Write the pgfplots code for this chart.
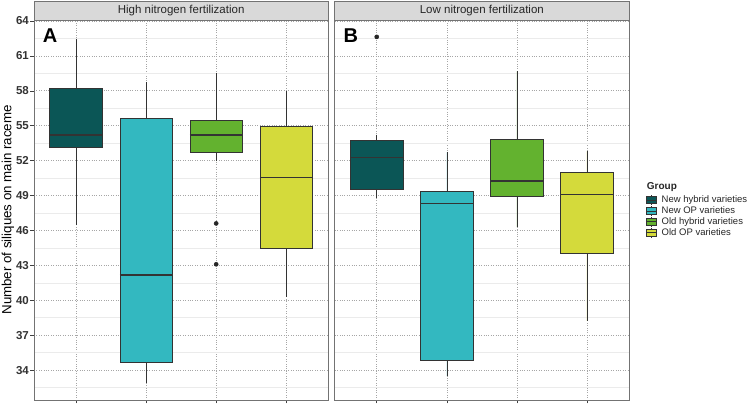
\documentclass[border=0pt]{standalone}
\usepackage{fontspec}
\setmainfont{Liberation Sans}
\usepackage{pgfplots}
\pgfplotsset{compat=1.18}
\usepgfplotslibrary{statistics}
\definecolor{cNH}{HTML}{0B5656}
\definecolor{cNO}{HTML}{33B8C0}
\definecolor{cOH}{HTML}{63B22F}
\definecolor{cOO}{HTML}{D4DA3B}
\definecolor{stripgray}{HTML}{D9D9D9}
\definecolor{boxline}{HTML}{333333}
\newcommand{\keyimg}[1]{%
    \path[draw=none, fill=none] (0pt,0pt) -- (14pt,0pt);
    \draw[boxline, line width=0.5pt] (5pt,-5pt) -- (5pt,5pt);
    \draw[boxline, line width=0.5pt, fill=#1] (0pt,-3.5pt) rectangle (10pt,3.5pt);
    \draw[boxline, line width=0.9pt] (0pt,0pt) -- (10pt,0pt);}
\begin{document}
\begin{tikzpicture}[x=1pt,y=1pt]
\path[use as bounding box] (0,0) rectangle (750,404);
\pgfplotsset{
 panel/.style={
  scale only axis, width=294.3pt, height=380pt,
  xmin=0.4, xmax=4.6, ymin=31.43, ymax=64.08,
  xtick={1,2,3,4}, xticklabels={},
  ytick={34,37,...,64},
  minor ytick={32.5,35.5,...,63.5},
  grid=both,
  major grid style={dotted, black!35, line width=0.6pt},
  minor grid style={black!8, line width=0.5pt},
  axis line style={black!55, line width=0.6pt},
  tick style={black!75, line width=0.5pt},
  minor tick length=0pt,
  tick align=outside, major tick length=3.5pt,
  tick pos=left,
  clip=false,
  /pgf/number format/assume math mode=true,
  yticklabel style={font=\fontsize{11.5}{13}\selectfont\bfseries, text=black!80, inner sep=1.5pt},
  boxplot/draw direction=y,
  boxplot/box extend=0.75,
  boxplot/whisker extend=0,
  boxplot/every median/.style={line width=1.4pt},
  bx/.style={draw=boxline, line width=0.6pt, mark=*, mark size=2pt,
   mark options={fill=black!85, draw=black!85, solid}},
 }}
% ---------- Panel A
\begin{axis}[panel, at={(34pt,4pt)}, anchor=south west,
  ylabel={Number of siliques on main raceme},
  every axis y label/.style={at={(axis description cs:0,0.5)}, rotate=90, anchor=center, yshift=26pt, font=\fontsize{13.3}{15}\selectfont, text=black}]
\addplot[bx, fill=cNH, boxplot prepared={draw position=1, lower whisker=46.43, lower quartile=53.11, median=54.2, upper quartile=58.23, upper whisker=62.43}] coordinates {};
\addplot[bx, fill=cNO, boxplot prepared={draw position=2, lower whisker=32.91, lower quartile=34.66, median=42.17, upper quartile=55.6, upper whisker=58.77}] coordinates {};
\addplot[bx, fill=cOH, boxplot prepared={draw position=3, lower whisker=51.94, lower quartile=52.74, median=54.2, upper quartile=55.46, upper whisker=59.49}] coordinates {(0,46.6) (0,43.09)};
\addplot[bx, fill=cOO, boxplot prepared={draw position=4, lower whisker=40.29, lower quartile=44.43, median=50.57, upper quartile=54.91, upper whisker=57.94}] coordinates {};
\draw[fill=stripgray, draw=black!55, line width=0.6pt] (rel axis cs:0,1) rectangle ([yshift=19pt]rel axis cs:1,1);
\node[font=\fontsize{11.5}{13}\selectfont, text=black!85] at ([yshift=9.5pt]rel axis cs:0.5,1) {High nitrogen fertilization};
\node[font=\fontsize{20}{24}\selectfont\bfseries] at (axis cs:0.63,62.7) {A};
\end{axis}
% ---------- Panel B
\begin{axis}[panel, at={(334.7pt,4pt)}, anchor=south west,
  yticklabels={}, ytick style={draw=none},
  legend style={at={(rel axis cs:1.058,0.5405)}, anchor=north west, draw=none, fill=none,
    font=\fontsize{9.5}{11}\selectfont, row sep=0pt, inner sep=0pt,
    nodes={inner sep=1pt, text height=7pt, text depth=1.8pt, text=black!85}},
  legend cell align=left]
\addplot[bx, fill=cNH, forget plot, boxplot prepared={draw position=1, lower whisker=48.77, lower quartile=49.51, median=52.29, upper quartile=53.71, upper whisker=54.23}] coordinates {(0,62.63)};
\addplot[bx, fill=cNO, forget plot, boxplot prepared={draw position=2, lower whisker=33.49, lower quartile=34.86, median=48.31, upper quartile=49.4, upper whisker=52.71}] coordinates {};
\addplot[bx, fill=cOH, forget plot, boxplot prepared={draw position=3, lower whisker=46.29, lower quartile=48.89, median=50.26, upper quartile=53.86, upper whisker=59.66}] coordinates {};
\addplot[bx, fill=cOO, forget plot, boxplot prepared={draw position=4, lower whisker=38.23, lower quartile=44.0, median=49.11, upper quartile=51.03, upper whisker=52.8}] coordinates {};
\addlegendimage{legend image code/.code={\keyimg{cNH}}}\addlegendentry{New hybrid varieties}
\addlegendimage{legend image code/.code={\keyimg{cNO}}}\addlegendentry{New OP varieties}
\addlegendimage{legend image code/.code={\keyimg{cOH}}}\addlegendentry{Old hybrid varieties}
\addlegendimage{legend image code/.code={\keyimg{cOO}}}\addlegendentry{Old OP varieties}
\draw[fill=stripgray, draw=black!55, line width=0.6pt] (rel axis cs:0,1) rectangle ([yshift=19pt]rel axis cs:1,1);
\node[font=\fontsize{11.5}{13}\selectfont, text=black!85] at ([yshift=9.5pt]rel axis cs:0.5,1) {Low nitrogen fertilization};
\node[font=\fontsize{20}{24}\selectfont\bfseries] at (axis cs:0.63,62.7) {B};
\node[anchor=west, font=\fontsize{10}{12}\selectfont\bfseries, text=black!85] at (rel axis cs:1.049,0.561) {Group};
\end{axis}
\end{tikzpicture}
\end{document}
